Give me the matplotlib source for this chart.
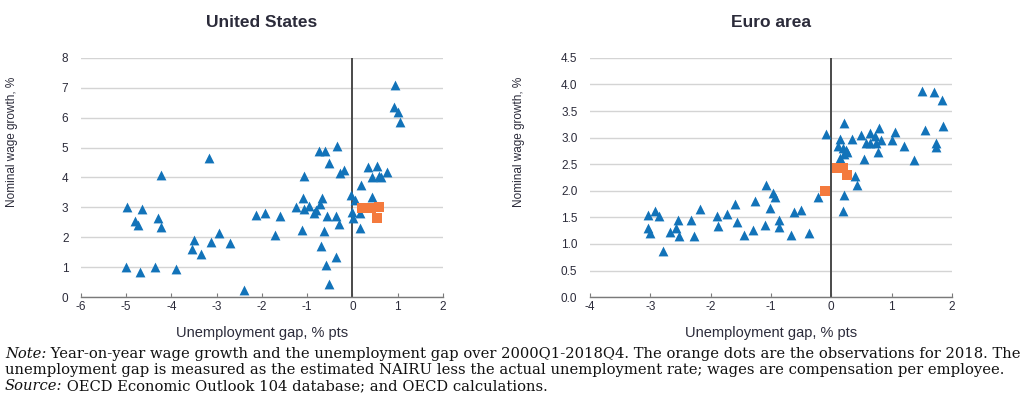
import matplotlib
matplotlib.use("Agg")
import matplotlib.pyplot as plt

# United States: unemployment gap (% pts) vs nominal wage growth (%)
us_gap = [-5.01, -4.70, -4.37, -3.90, -4.98, -4.64, -4.81, -4.73, -4.29, -4.23,
          -4.23, -3.16, -3.49, -3.55, -3.35, -3.13, -2.95, -2.70, -2.40, -2.13,
          -1.94, -1.61, -1.70, -1.25, -1.10, -1.06, -0.95, -0.80, -0.84, -0.68,
          -0.71, -1.06, -1.12, -0.74, -0.60, -0.35, -0.51, -0.27, -0.18, -0.63,
          -0.55, -0.36, -0.29, -0.70, -0.59, -0.51, -0.37, -0.03, 0.06, -0.01,
          0.02, 0.17, 0.19, 0.18, 0.43, 0.35, 0.54, 0.43, 0.60, 0.63,
          0.76, 0.94, 0.91, 1.02, 1.05]
us_wage = [1.00, 0.85, 1.00, 0.93, 3.00, 2.95, 2.55, 2.40, 2.65, 2.35,
           4.10, 4.65, 1.90, 1.60, 1.45, 1.85, 2.15, 1.80, 0.25, 2.75,
           2.80, 2.70, 2.08, 3.00, 3.30, 2.95, 3.05, 2.90, 2.80, 3.30,
           3.10, 4.05, 2.25, 4.90, 4.90, 5.05, 4.50, 4.15, 4.25, 2.20,
           2.70, 2.70, 2.45, 1.70, 1.07, 0.45, 1.33, 3.40, 3.25, 2.85,
           2.65, 2.80, 3.75, 2.30, 3.35, 4.35, 4.40, 4.00, 4.05, 4.00,
           4.20, 7.10, 6.35, 6.20, 5.85]
us_2018_gap = [0.21, 0.42, 0.60, 0.54]
us_2018_wage = [2.98, 2.98, 3.01, 2.64]

# Euro area
ea_gap = [-3.04, -3.00, -3.03, -2.92, -2.86, -2.79, -2.67, -2.58, -2.54, -2.52,
          -2.32, -2.28, -2.18, -1.89, -1.88, -1.73, -1.60, -1.57, -1.45, -1.29,
          -1.26, -1.10, -1.08, -1.02, -0.97, -0.94, -0.86, -0.87, -0.66, -0.61,
          -0.50, -0.37, -0.22, -0.09, 0.22, 0.14, 0.11, 0.19, 0.25, 0.27,
          0.14, 0.21, 0.34, 0.49, 0.54, 0.40, 0.43, 0.21, 0.19, 0.57,
          0.64, 0.64, 0.73, 0.75, 0.77, 0.80, 0.82, 1.01, 1.06, 1.20,
          1.37, 1.51, 1.70, 1.84, 1.55, 1.85, 1.74, 1.73]
ea_wage = [1.30, 1.20, 1.55, 1.62, 1.52, 0.87, 1.23, 1.30, 1.45, 1.15,
           1.45, 1.15, 1.65, 1.53, 1.33, 1.56, 1.75, 1.42, 1.17, 1.26,
           1.80, 1.35, 2.10, 1.67, 1.95, 1.88, 1.45, 1.31, 1.17, 1.60,
           1.63, 1.21, 1.88, 3.06, 3.27, 2.98, 2.85, 2.80, 2.77, 2.73,
           2.62, 2.70, 2.97, 3.05, 2.59, 2.27, 2.10, 1.92, 1.62, 2.90,
           3.08, 2.89, 3.03, 2.90, 2.73, 3.18, 2.95, 2.95, 3.10, 2.85,
           2.57, 3.88, 3.85, 3.70, 3.15, 3.22, 2.90, 2.83]
ea_2018_gap = [-0.11, 0.09, 0.20, 0.26]
ea_2018_wage = [2.00, 2.43, 2.42, 2.30]

us_yticks = [0, 1, 2, 3, 4, 5, 6, 7, 8]
ea_yticks = [0.0, 0.5, 1.0, 1.5, 2.0, 2.5, 3.0, 3.5, 4.0, 4.5]

BLUE = "#1273b9"
ORANGE = "#f47a3d"
TEXT = "#2b2b3a"

plt.rcParams["font.family"] = ["Liberation Sans", "DejaVu Sans"]
plt.rcParams["axes.unicode_minus"] = False

fig = plt.figure(figsize=(10.25, 3.94), dpi=100)
ax1 = fig.add_axes([0.079, 0.246, 0.353, 0.607])
ax2 = fig.add_axes([0.5756, 0.246, 0.353, 0.607])


def panel(ax, title, gx, gy, ox, oy, xlim, yticks, fmt):
    ax.set_xlim(*xlim)
    ax.set_ylim(yticks[0], yticks[-1])
    ax.set_yticks(yticks)
    ax.set_yticklabels([fmt.format(t) for t in yticks])
    ax.set_xticks(range(xlim[0], xlim[1] + 1))
    for s in ["top", "right", "left"]:
        ax.spines[s].set_visible(False)
    ax.spines["bottom"].set_color("#7a7a7a")
    ax.spines["bottom"].set_linewidth(1.0)
    ax.grid(axis="y", color="#d4d4d4", linewidth=1.0)
    ax.set_axisbelow(True)
    ax.tick_params(axis="y", length=0, pad=9, labelsize=8.5, labelcolor=TEXT)
    ax.tick_params(axis="x", direction="in", length=3, color="#7a7a7a",
                   pad=3, labelsize=8.5, labelcolor=TEXT)
    ax.axvline(0, color="#4a4a4a", linewidth=1.4, zorder=2)
    ax.scatter(gx, gy, marker="^", s=50, color=BLUE, linewidths=0, zorder=3)
    ax.scatter(ox, oy, marker="s", s=62, color=ORANGE, linewidths=0, zorder=4)
    ax.set_title(title, fontsize=12.5, fontweight="bold", color=TEXT, pad=22)
    ax.set_xlabel("Unemployment gap, % pts", fontsize=10.5, color=TEXT, labelpad=9)
    ax.set_ylabel("Nominal wage growth, %", fontsize=8.5, color=TEXT)


panel(ax1, "United States", us_gap, us_wage, us_2018_gap, us_2018_wage,
      (-6, 2), us_yticks, "{:g}")
panel(ax2, "Euro area", ea_gap, ea_wage, ea_2018_gap, ea_2018_wage,
      (-4, 2), ea_yticks, "{:.1f}")
ax1.yaxis.set_label_coords(-0.174, 0.65)
ax2.yaxis.set_label_coords(-0.18, 0.65)

# footnote in serif, with italic lead-ins
serif = ["DejaVu Serif"]
note_lines = [
    ("Note:", " Year-on-year wage growth and the unemployment gap over 2000Q1-2018Q4. "
              "The orange dots are the observations for 2018. The"),
    ("", "unemployment gap is measured as the estimated NAIRU less the actual "
         "unemployment rate; wages are compensation per employee."),
    ("Source:", " OECD Economic Outlook 104 database; and OECD calculations."),
]
renderer = fig.canvas.get_renderer()
for i, (lead, rest) in enumerate(note_lines):
    y = 1 - (354 + 16 * i) / 394
    x = 5 / 1025
    if lead:
        t = fig.text(x, y, lead, family=serif, style="italic", fontsize=10.6,
                     color="#111111", va="center")
        bb = t.get_window_extent(renderer)
        x = bb.x1 / fig.bbox.width
    fig.text(x, y, rest, family=serif, fontsize=10.6, color="#111111", va="center")

fig.savefig("out.png", dpi=100)
